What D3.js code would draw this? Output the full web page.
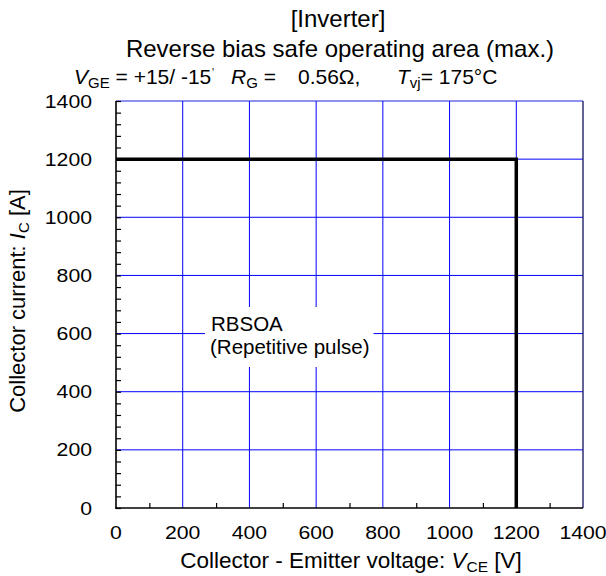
<!DOCTYPE html>
<html><head><meta charset="utf-8">
<script src="https://cdn.jsdelivr.net/npm/d3@7/dist/d3.min.js"></script>
<style>
html,body{margin:0;padding:0;background:#fff;}
text{font-family:"Liberation Sans",Arial,sans-serif;fill:#000;}
</style></head>
<body>
<svg id="chart" width="606" height="576"></svg>
<script>
// ---- data ----
const xTickValues = [0, 200, 400, 600, 800, 1000, 1200, 1400];
const yTickValues = [0, 200, 400, 600, 800, 1000, 1200, 1400];
const rbsoaVoltage = [0, 1200, 1200];   // V_CE [V]
const rbsoaCurrent = [1200, 1200, 0];   // I_C [A]
const titleLines = ["[Inverter]", "Reverse bias safe operating area (max.)"];
const curveLabel = ["RBSOA", "(Repetitive pulse)"];

// ---- layout ----
const svg = d3.select("#chart");
const L = 116, R = 583, T = 101, B = 508;
const x = d3.scaleLinear().domain([0, 1400]).range([L, R]);
const y = d3.scaleLinear().domain([0, 1400]).range([B, T]);

// gridlines
const g = svg.append("g");
g.selectAll(".vg").data(xTickValues.filter(d => d > 0 && d < 1400)).enter().append("line")
  .attr("x1", d => x(d)).attr("x2", d => x(d)).attr("y1", T).attr("y2", B)
  .attr("stroke", "#0000ff").attr("stroke-width", 1);
g.selectAll(".hg").data(yTickValues.filter(d => d > 0 && d < 1400)).enter().append("line")
  .attr("y1", d => y(d)).attr("y2", d => y(d)).attr("x1", L).attr("x2", R)
  .attr("stroke", "#0000ff").attr("stroke-width", 1);

// frame top / right
svg.append("line").attr("x1", L).attr("x2", R).attr("y1", T).attr("y2", T).attr("stroke", "#2020e0").attr("stroke-width", 1.2);
svg.append("line").attr("x1", R).attr("x2", R).attr("y1", T).attr("y2", B).attr("stroke", "#20206a").attr("stroke-width", 1.4);

// axes with minor ticks
const yAxis = d3.axisRight(y).tickValues(d3.range(0, 1401, 40)).tickSize(5).tickFormat("");
const ya = svg.append("g").attr("transform", `translate(${L},0)`).call(yAxis);
const xAxis = d3.axisTop(x).tickValues(d3.range(100, 1400, 200)).tickSize(5).tickFormat("");
const xa = svg.append("g").attr("transform", `translate(0,${B})`).call(xAxis);
[ya, xa].forEach(a => { a.select(".domain").remove(); a.selectAll("line").attr("stroke", "#000").attr("stroke-width", 1.2); });
svg.append("line").attr("x1", L).attr("x2", L).attr("y1", T).attr("y2", B + 0.8).attr("stroke", "#000").attr("stroke-width", 1.6);
svg.append("line").attr("x1", L - 0.8).attr("x2", R).attr("y1", B).attr("y2", B).attr("stroke", "#000").attr("stroke-width", 1.6);

// tick labels (slightly wide glyphs as in the reference)
svg.append("g").selectAll("text").data(yTickValues).enter().append("text")
  .attr("transform", d => `translate(92,${y(d) + 6.5}) scale(1.18,1)`).attr("text-anchor", "end")
  .attr("font-size", 18).text(d => d);
svg.append("g").selectAll("text").data(xTickValues).enter().append("text")
  .attr("transform", d => `translate(${x(d)},539) scale(1.18,1)`).attr("text-anchor", "middle")
  .attr("font-size", 18).text(d => d);

// RBSOA curve
const line = d3.line().x(d => x(d[0])).y(d => y(d[1]));
svg.append("path").datum(rbsoaVoltage.map((v, i) => [v, rbsoaCurrent[i]]))
  .attr("d", line).attr("fill", "none").attr("stroke", "#000").attr("stroke-width", 3.5)
  .attr("stroke-linejoin", "miter");

// curve label with white background
const lab = svg.append("g");
const bg = lab.append("rect").attr("fill", "#fff");
const lt = lab.append("text").attr("font-size", 20.5);
lt.append("tspan").attr("x", 211).attr("y", 331).text(curveLabel[0]);
lt.append("tspan").attr("x", 210).attr("y", 354).text(curveLabel[1]);
const bb = lt.node().getBBox();
bg.attr("x", 205).attr("y", 307).attr("width", bb.x + bb.width + 4 - 205).attr("height", 60);

// titles
svg.append("text").attr("x", 338).attr("y", 27).attr("text-anchor", "middle").attr("font-size", 24).text(titleLines[0]);
svg.append("text").attr("x", 340).attr("y", 57).attr("text-anchor", "middle").attr("font-size", 24).text(titleLines[1]);

// conditions line
function cond(xp, parts) {
  const t = svg.append("text").attr("x", xp).attr("y", 84).attr("font-size", 21);
  parts.forEach(p => {
    const s = t.append("tspan").text(p.t);
    if (p.x != null) s.attr("x", p.x);
    if (p.i) s.attr("font-style", "italic");
    if (p.sub) s.attr("font-size", 15).attr("dy", 4);
    if (p.up) s.attr("dy", -4);
  });
}
cond(74, [{t: "V", i: true}, {t: "GE", sub: true}, {t: " = +15/ -15", up: true}]);
svg.append("text").attr("x", 212).attr("y", 76).attr("font-size", 11).text("'");
cond(231, [{t: "R", i: true}, {t: "G", sub: true}, {t: " =", up: true}, {t: "0.56Ω,", x: 298}]);
cond(397, [{t: "T", i: true}, {t: "vj", sub: true}, {t: "= 175°C", up: true}]);

// axis titles
const xt = svg.append("text").attr("x", 351).attr("y", 568).attr("text-anchor", "middle").attr("font-size", 22.5);
xt.append("tspan").text("Collector - Emitter voltage: ");
xt.append("tspan").attr("font-style", "italic").text("V");
xt.append("tspan").attr("font-size", 15.5).attr("dy", 4).text("CE");
xt.append("tspan").attr("dy", -4).text(" [V]");

const yt = svg.append("text").attr("transform", "translate(25,301) rotate(-90)").attr("text-anchor", "middle").attr("font-size", 22);
yt.append("tspan").text("Collector current: ");
yt.append("tspan").attr("font-style", "italic").text("I");
yt.append("tspan").attr("font-size", 15).attr("dy", 4).text("C");
yt.append("tspan").attr("dy", -4).text(" [A]");
</script>
</body></html>
